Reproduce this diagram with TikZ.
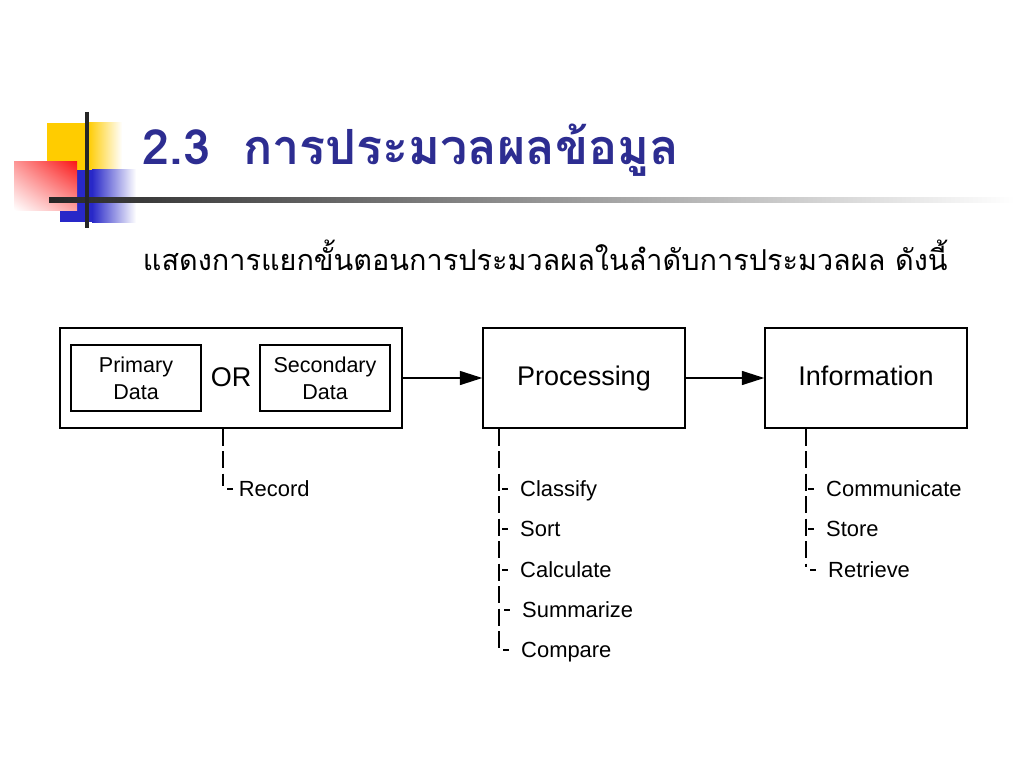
\documentclass[tikz,border=0pt]{standalone}
\usepackage{fontspec}
\setmainfont{Liberation Sans}
\newfontfamily\thaifont[Script=Thai]{Loma}
\usetikzlibrary{arrows.meta,positioning,shadings}
\definecolor{titleblue}{RGB}{45,45,145}
\definecolor{markyellow}{RGB}{255,204,0}
\definecolor{markblue}{RGB}{40,40,200}
\definecolor{markred}{RGB}{250,25,25}

\begin{document}
\begin{tikzpicture}[x=0.025cm,y=-0.025cm]

%
% Styles
%
\tikzstyle{block} = [rectangle,draw,line width=1pt,minimum width=5.05cm,minimum height=2.5cm,text height=14pt,text depth=4pt,font=\fontsize{19.2}{22}\selectfont]
\tikzstyle{datum} = [rectangle,draw,line width=1pt,minimum width=3.25cm,minimum height=1.65cm,align=center,font=\fontsize{15.3}{19}\selectfont]
\tikzstyle{item} = [anchor=west,inner ysep=0pt,inner xsep=8.5pt,text height=14pt,text depth=2.8pt,font=\fontsize{15.6}{18}\selectfont]
\tikzstyle{flow} = [-{Triangle[length=16pt,width=10pt]},line width=1pt]
\tikzstyle{rail} = [line width=1pt,dash pattern=on 12pt off 4pt]
\tikzstyle{tick} = [line width=1pt]

\useasboundingbox (0,0) rectangle (1024,768);

% corner mark
\fill[markyellow] (47,123) rectangle (88,170);
\shade[left color=markyellow,right color=white] (88,123) rectangle (122,170);
\fill[markblue] (60,170) rectangle (92,222);
\shade[left color=markblue,right color=white] (92,170) rectangle (136,222);
\shade[upper right=markred,upper left=markred!45,lower right=markred!40,lower left=white] (14,162) rectangle (77,210);
\shade[left color=black!85,right color=white] (49,197.5) rectangle (1015,202.5);
\draw[line width=2.6pt,black!85] (87,112) -- (87,228);

% heading
\node[anchor=west,text=titleblue,font=\thaifont\bfseries\fontsize{34.5}{40}\selectfont] (title) at (138,150) {2.3\ \ การประมวลผลข้อมูล};
\node[anchor=west,font=\thaifont\fontsize{20.5}{24}\selectfont] (lead) at (138,255) {แสดงการแยกขั้นตอนการประมวลผลในลำดับการประมวลผล ดังนี้};

% boxes
\node[block,minimum width=8.55cm] (src) at (231,378) {};
\node[datum] (prim) at (136,378) {Primary\\Data};
\node[datum] (sec) at (325,378) {Secondary\\Data};
\node[font=\fontsize{19.2}{22}\selectfont] (or) at (231,377) {OR};
\node[block] (proc) at (584,378) {Processing};
\node[block] (info) at (866,378) {Information};

\draw[flow] (src) -- (proc);
\draw[flow] (proc) -- (info);

% steps
\node[item,inner xsep=4pt] (rec) at (233,489) {Record};

\node[item] (cls) at (508,489) {Classify};
\node[item] (srt) at (508,529) {Sort};
\node[item] (clc) at (508,570) {Calculate};
\node[item] (sum) at (510,610) {Summarize};
\node[item] (cmp) at (509,650) {Compare};

\node[item] (com) at (814,489) {Communicate};
\node[item] (sto) at (814,529) {Store};
\node[item] (ret) at (816,570) {Retrieve};

\coordinate (recfoot) at (223,486);
\coordinate (procfoot) at (499,648);
\coordinate (infofoot) at (806,567);

\draw[rail] (src.south -| recfoot) -- (recfoot);
\draw[rail] (proc.south -| procfoot) -- (procfoot);
\draw[rail] (info.south -| infofoot) -- (infofoot);

\draw[tick] ([xshift=-4pt]rec.west) -- (rec.west);
\draw[tick] ([xshift=-4pt]cls.west) -- (cls.west);
\draw[tick] ([xshift=-4pt]srt.west) -- (srt.west);
\draw[tick] ([xshift=-4pt]clc.west) -- (clc.west);
\draw[tick] ([xshift=-4pt]sum.west) -- (sum.west);
\draw[tick] ([xshift=-4pt]cmp.west) -- (cmp.west);
\draw[tick] ([xshift=-4pt]com.west) -- (com.west);
\draw[tick] ([xshift=-4pt]sto.west) -- (sto.west);
\draw[tick] ([xshift=-4pt]ret.west) -- (ret.west);

\end{tikzpicture}
\end{document}
